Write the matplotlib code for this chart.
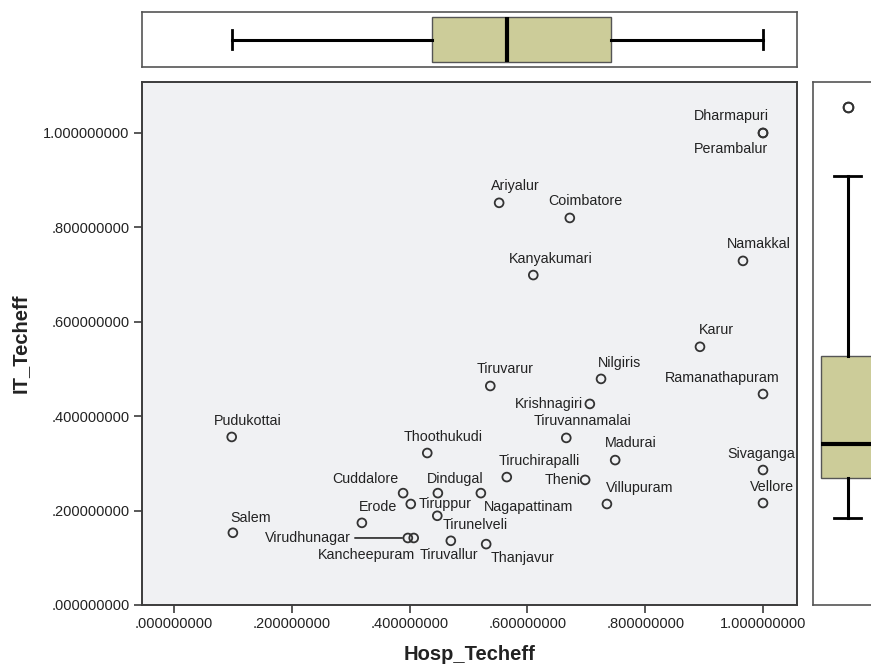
import matplotlib
matplotlib.use('Agg')
import matplotlib.pyplot as plt
from matplotlib.ticker import FuncFormatter, FixedLocator

# ---------------- data ----------------
districts = ["Dharmapuri", "Perambalur", "Ariyalur", "Coimbatore", "Kanyakumari",
             "Namakkal", "Karur", "Tiruvarur", "Nilgiris", "Krishnagiri",
             "Ramanathapuram", "Pudukottai", "Thoothukudi", "Tiruvannamalai", "Madurai",
             "Sivaganga", "Tiruchirapalli", "Theni", "Cuddalore", "Dindugal",
             "Nagapattinam", "Tiruppur", "Villupuram", "Vellore", "Tirunelveli",
             "Erode", "Salem", "Virudhunagar", "Kancheepuram", "Tiruvallur", "Thanjavur"]
hosp_techeff = [1.000, 1.000, 0.552, 0.672, 0.610,
                0.966, 0.893, 0.537, 0.725, 0.706,
                1.000, 0.098, 0.430, 0.666, 0.749,
                1.000, 0.565, 0.698, 0.389, 0.448,
                0.521, 0.402, 0.735, 1.000, 0.447,
                0.319, 0.100, 0.397, 0.407, 0.470, 0.530]
it_techeff = [1.000, 1.000, 0.852, 0.820, 0.699,
              0.729, 0.547, 0.464, 0.479, 0.426,
              0.447, 0.356, 0.322, 0.354, 0.307,
              0.286, 0.271, 0.265, 0.237, 0.237,
              0.237, 0.214, 0.214, 0.216, 0.189,
              0.174, 0.153, 0.142, 0.142, 0.136, 0.129]
x_ticks = [0.0, 0.2, 0.4, 0.6, 0.8, 1.0]
y_ticks = [0.0, 0.2, 0.4, 0.6, 0.8, 1.0]
x_title = "Hosp_Techeff"
y_title = "IT_Techeff"

# label placement (pixel offsets of label centre from its point; layout only)
label_offsets = [(-32, 17), (-32, -16), (16, 17), (16, 17), (17, 16),
                 (16, 17), (16, 17), (15, 17), (18, 16), (-41, 0),
                 (-41, 16), (16, 16), (16, 16), (16, 17), (16, 17),
                 (-2, 16), (32, 16), (-23, 0), (-38, 14), (17, 14),
                 (48, -14), (34, 0), (33, 16), (9, 16), (38, -9),
                 (16, 16), (18, 15), (-100, 0), (-47, -17), (-2, -14), (36, -14)]
leader_line = {"Virudhunagar"}

FONT = ['Liberation Sans', 'DejaVu Sans']
plt.rcParams['font.family'] = FONT

W, H = 871, 665
fig = plt.figure(figsize=(W / 100, H / 100), dpi=100)


def px_axes(l, t, r, b):
    return fig.add_axes([l / W, 1 - b / H, (r - l) / W, (b - t) / H])


BOX_FC = '#cccc99'
FRAME = '#3c3c3c'

# ---------------- main scatter ----------------
ax = px_axes(142, 82, 797, 605)
ax.set_facecolor('#f0f1f3')
ax.scatter(hosp_techeff, it_techeff, s=40, facecolors='none',
           edgecolors='#333333', linewidths=1.3, zorder=3)
for name, xv, yv, (dx, dy) in zip(districts, hosp_techeff, it_techeff, label_offsets):
    kw = {}
    if name in leader_line:
        kw['arrowprops'] = dict(arrowstyle='-', color='#444444', lw=1.4,
                                shrinkA=1, shrinkB=4)
    ax.annotate(name, (xv, yv), xytext=(dx, dy), textcoords='offset pixels',
                ha='center', va='center', fontsize=10.3, color='#222222',
                annotation_clip=False, **kw)

ax.set_xlim(-0.0543, 1.0577)
ax.set_ylim(0.0, 1.108)
fmt = FuncFormatter(lambda v, p: (f"{v:.9f}"[1:] if f"{v:.9f}".startswith('0') else f"{v:.9f}"))
ax.xaxis.set_major_locator(FixedLocator(x_ticks))
ax.yaxis.set_major_locator(FixedLocator(y_ticks))
ax.xaxis.set_major_formatter(fmt)
ax.yaxis.set_major_formatter(fmt)
ax.tick_params(axis='both', direction='out', length=6, width=1.2, color=FRAME,
               labelsize=10.5, labelcolor='#222222', pad=3)
for s in ax.spines.values():
    s.set_color(FRAME)
    s.set_linewidth(1.4)
ax.set_xlabel(x_title, fontsize=14.5, fontweight='bold', color='#222222', labelpad=10)
ax.set_ylabel(y_title, fontsize=14.5, fontweight='bold', color='#222222', labelpad=10)

# ---------------- top marginal boxplot ----------------
axt = px_axes(142, 12, 797, 67)
bp = axt.boxplot([hosp_techeff], vert=False, positions=[0.5], widths=0.82,
                 whis=1.5, patch_artist=True, capwidths=0.36,
                 boxprops=dict(facecolor=BOX_FC, edgecolor='#555555', linewidth=1.0),
                 whiskerprops=dict(color='black', linewidth=2.2),
                 capprops=dict(color='black', linewidth=2.0),
                 medianprops=dict(color='black', linewidth=3.0),
                 flierprops=dict(marker='o', markerfacecolor='none',
                                 markeredgecolor='#333333', markersize=6))
axt.set_xlim(-0.0543, 1.0577)
axt.set_ylim(0, 1)
axt.set_xticks([])
axt.set_yticks([])
for s in axt.spines.values():
    s.set_color('#555555')
    s.set_linewidth(1.2)

# ---------------- right marginal boxplot ----------------
axr = px_axes(813, 82, 884, 605)
axr.boxplot([it_techeff], vert=True, positions=[0.49], widths=0.76,
            whis=1.5, patch_artist=True, capwidths=0.38,
            boxprops=dict(facecolor=BOX_FC, edgecolor='#555555', linewidth=1.0),
            whiskerprops=dict(color='black', linewidth=2.2),
            capprops=dict(color='black', linewidth=2.0),
            medianprops=dict(color='black', linewidth=3.0),
            flierprops=dict(marker='o', markerfacecolor='none',
                            markeredgecolor='#333333', markersize=7,
                            markeredgewidth=1.3))
axr.set_xlim(0, 1)
axr.set_ylim(-0.056, 1.052)
axr.set_xticks([])
axr.set_yticks([])
for s in axr.spines.values():
    s.set_color('#555555')
    s.set_linewidth(1.2)

fig.savefig('out.png', dpi=100)
